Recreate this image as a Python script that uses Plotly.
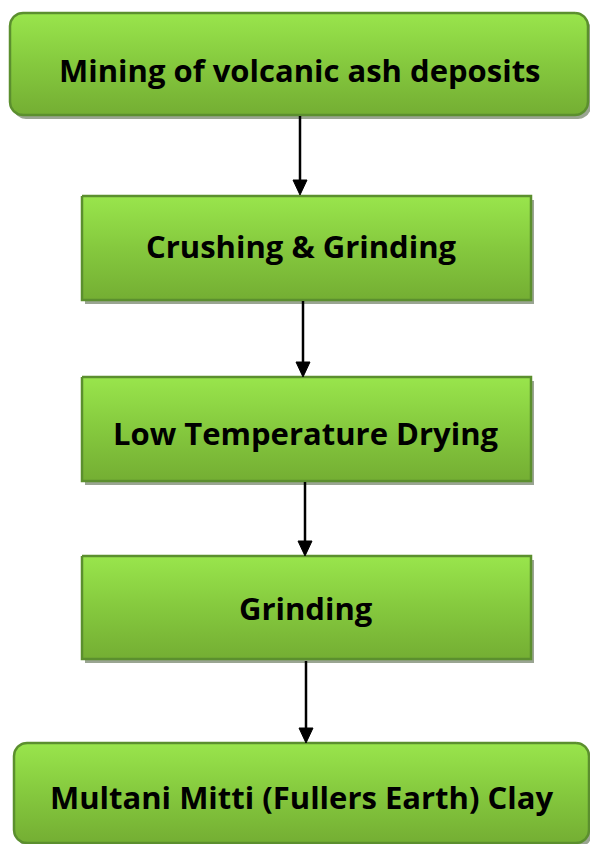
import numpy as np
import plotly.graph_objects as go

W, H = 590, 844

# Flowchart steps (text content)
steps = [
    "Mining of volcanic ash deposits",
    "Crushing & Grinding",
    "Low Temperature Drying",
    "Grinding",
    "Multani Mitti (Fullers Earth) Clay",
]
# box geometry in pixel coords (x0, x1, y0_top, y1_bottom, corner radius)
boxes = [
    (10, 588, 13, 115, 13),
    (82, 531, 196, 300, 0),
    (82, 531, 377, 481, 0),
    (82, 531, 556, 659, 0),
    (14, 589, 743, 843, 13),
]
text_pos = [(300, 70), (301, 246), (306, 433), (306, 608), (301, 797)]
arrows = [(300, 116, 195), (303, 301, 377), (305, 482, 556), (306, 661, 743)]

FONT = "'Open Sans', sans-serif"


def Y(py):
    return H - py


def rrect(x0, x1, y0, y1, r):
    if r <= 0:
        xs = [x0, x1, x1, x0, x0]
        ys = [y0, y0, y1, y1, y0]
        return xs, [Y(v) for v in ys]
    xs, ys = [], []
    corners = [(x1 - r, y0 + r, -90, 0), (x1 - r, y1 - r, 0, 90),
               (x0 + r, y1 - r, 90, 180), (x0 + r, y0 + r, 180, 270)]
    for cx, cy, a0, a1 in corners:
        t = np.radians(np.linspace(a0, a1, 12))
        xs += list(cx + r * np.cos(t))
        ys += list(cy + r * np.sin(t))
    xs.append(xs[0])
    ys.append(ys[0])
    return xs, [Y(v) for v in ys]


fig = go.Figure()

for (x0, x1, y0, y1, r) in boxes:
    # shadow
    sx, sy = rrect(x0 + 3, x1 + 3, y0 + 4, y1 + 4, r)
    fig.add_trace(go.Scatter(x=sx, y=sy, mode="lines", fill="toself",
                             fillcolor="rgba(120,135,110,0.75)",
                             line=dict(width=0), hoverinfo="skip", showlegend=False))
    bx, by = rrect(x0, x1, y0, y1, r)
    fig.add_trace(go.Scatter(
        x=bx, y=by, mode="lines", fill="toself",
        fillgradient=dict(type="vertical", start=Y(y1), stop=Y(y0),
                          colorscale=[[0, "#74ae33"], [0.5, "#85c93e"], [1, "#99e54c"]]),
        line=dict(color="#5b8f2e", width=2.5), hoverinfo="skip", showlegend=False))

for (ax, ya, yb) in arrows:
    fig.add_trace(go.Scatter(x=[ax, ax], y=[Y(ya), Y(yb - 12)], mode="lines",
                             line=dict(color="black", width=2.5),
                             hoverinfo="skip", showlegend=False))
    fig.add_trace(go.Scatter(x=[ax - 7, ax + 7, ax, ax - 7],
                             y=[Y(yb - 15), Y(yb - 15), Y(yb), Y(yb - 15)],
                             mode="lines", fill="toself", fillcolor="black",
                             line=dict(color="black", width=1),
                             hoverinfo="skip", showlegend=False))

for label, (tx, ty) in zip(steps, text_pos):
    fig.add_annotation(x=tx, y=Y(ty), text=f"<b>{label}</b>", showarrow=False,
                       font=dict(family=FONT, size=31, color="black"),
                       xanchor="center", yanchor="middle")

fig.update_layout(
    width=W, height=H, margin=dict(l=0, r=0, t=0, b=0),
    paper_bgcolor="white", plot_bgcolor="white",
    xaxis=dict(range=[0, W], visible=False, fixedrange=True),
    yaxis=dict(range=[0, H], visible=False, fixedrange=True),
    showlegend=False,
)

fig.write_html(
    "out.html",
    config={"displayModeBar": False},
    post_script="document.body.style.margin='0';document.body.style.overflow='hidden';",
)
